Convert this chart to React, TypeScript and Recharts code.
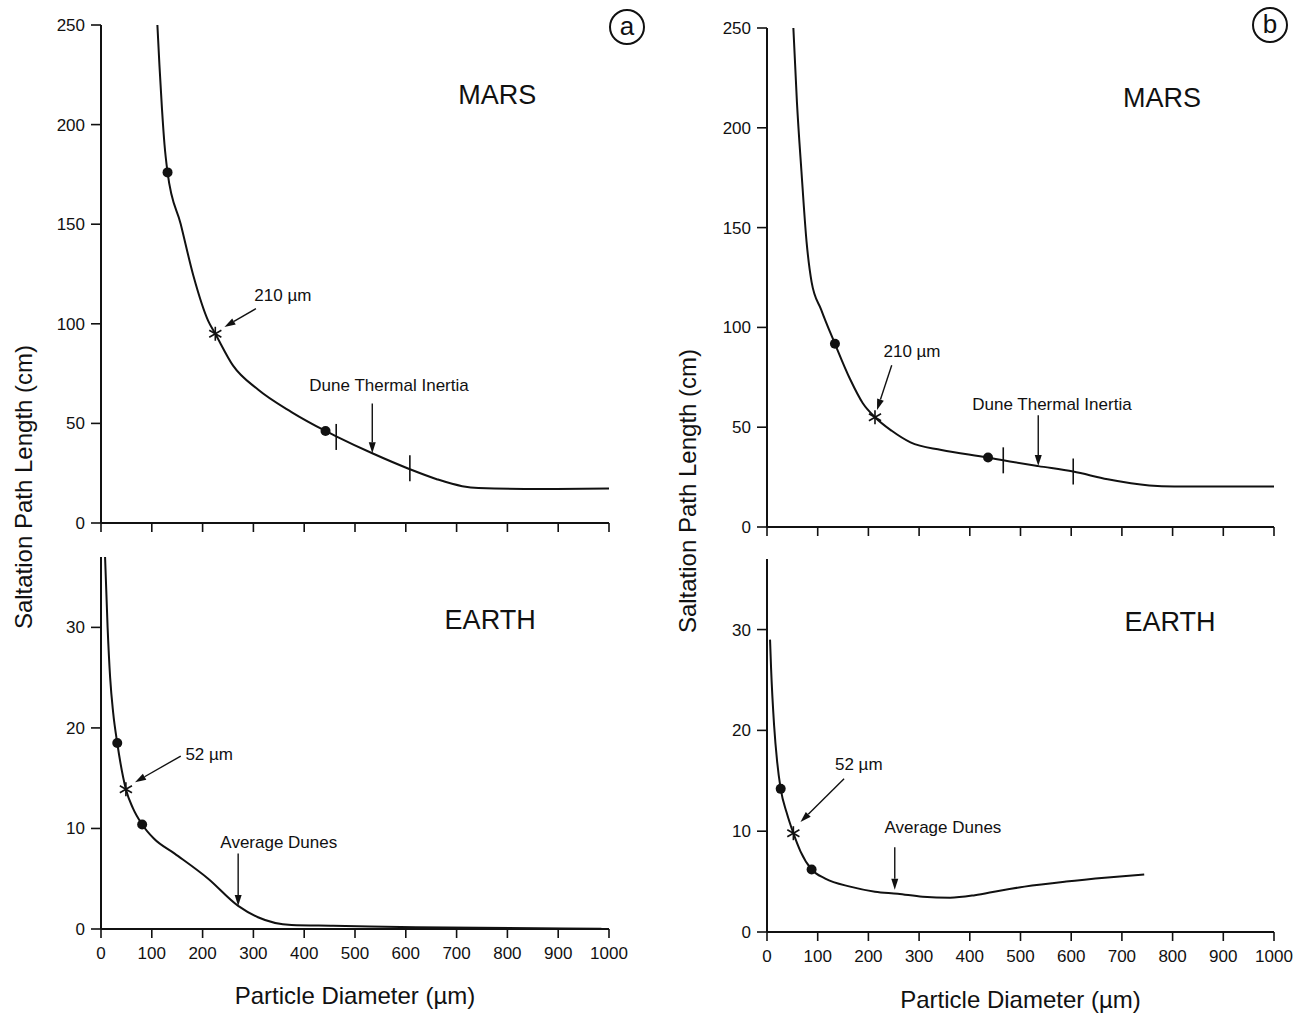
import React from 'react';
import {
  ComposedChart,
  Line,
  Scatter,
  XAxis,
  YAxis,
  ReferenceLine,
  ReferenceDot,
} from 'recharts';

const FONT = "'Liberation Sans', Arial, Helvetica, sans-serif";
const INK = '#111';

// shared axis ticks
const xTicks = [0, 100, 200, 300, 400, 500, 600, 700, 800, 900, 1000];
const marsYTicks = [0, 50, 100, 150, 200, 250];
const earthYTicks = [0, 10, 20, 30];

// ---- panel (a) MARS ----
const marsACurve = [
  { d: 111, y: 250 }, { d: 115, y: 230 }, { d: 120, y: 208 }, { d: 125, y: 190 },
  { d: 131, y: 176 }, { d: 157, y: 150 }, { d: 182, y: 124 }, { d: 211, y: 101.5 },
  { d: 225, y: 95 }, { d: 260, y: 79 }, { d: 309, y: 67 }, { d: 375, y: 55.7 },
  { d: 442, y: 46.2 }, { d: 463, y: 43.5 }, { d: 534, y: 35 }, { d: 608, y: 27 },
  { d: 661, y: 22 }, { d: 711, y: 18.5 }, { d: 743, y: 17.6 }, { d: 866, y: 17.1 },
  { d: 1000, y: 17.3 },
];
const marsADots = [{ d: 131, y: 176 }, { d: 442, y: 46.2 }];
const marsAStar = [{ d: 225, y: 95 }];
const marsABars = [{ d: 463, y: 43.2 }, { d: 608, y: 27.5 }];
const marsAArrows = [
  { x1: 305, y1: 107.6, x2: 243, y2: 98.4 },
  { x1: 534, y1: 60, x2: 534, y2: 35 },
];
const marsANotes = [
  { text: '210 µm', d: 358, y: 114, size: 17 },
  { text: 'Dune Thermal Inertia', d: 567, y: 68.8, size: 17 },
  { text: 'MARS', d: 780, y: 215, size: 27 },
];

// ---- panel (a) EARTH ----
const earthACurve = [
  { d: 8, y: 37 }, { d: 13, y: 30 }, { d: 18, y: 25 }, { d: 24, y: 21.5 },
  { d: 32, y: 18.5 }, { d: 49, y: 13.9 }, { d: 63, y: 12.0 }, { d: 81, y: 10.4 },
  { d: 104, y: 9.0 }, { d: 145, y: 7.5 }, { d: 211, y: 5.0 }, { d: 270, y: 2.3 },
  { d: 309, y: 1.17 }, { d: 375, y: 0.4 }, { d: 457, y: 0.33 }, { d: 620, y: 0.17 },
  { d: 985, y: 0.03 },
];
const earthADots = [{ d: 32, y: 18.5 }, { d: 81, y: 10.4 }];
const earthAStar = [{ d: 49, y: 13.9 }];
const earthAArrows = [
  { x1: 157, y1: 17.2, x2: 67, y2: 14.6 },
  { x1: 270, y1: 7.5, x2: 270, y2: 2.3 },
];
const earthANotes = [
  { text: '52 µm', d: 213, y: 17.4, size: 17 },
  { text: 'Average Dunes', d: 350, y: 8.6, size: 17 },
  { text: 'EARTH', d: 766, y: 30.7, size: 27 },
];

// ---- panel (b) MARS ----
const marsBCurve = [
  { d: 52, y: 250 }, { d: 59, y: 213 }, { d: 68, y: 178 }, { d: 78, y: 143 },
  { d: 88, y: 122.7 }, { d: 107, y: 108.8 }, { d: 134, y: 91.8 }, { d: 164, y: 74 },
  { d: 189, y: 62 }, { d: 213, y: 55 }, { d: 246, y: 48.2 }, { d: 283, y: 42.4 },
  { d: 344, y: 38.6 }, { d: 436, y: 34.8 }, { d: 466, y: 33.4 }, { d: 535, y: 30.5 },
  { d: 604, y: 27.8 }, { d: 672, y: 23.9 }, { d: 754, y: 20.8 }, { d: 803, y: 20.3 },
  { d: 1000, y: 20.3 },
];
const marsBDots = [{ d: 134, y: 91.8 }, { d: 436, y: 34.8 }];
const marsBStar = [{ d: 213, y: 55 }];
const marsBBars = [{ d: 466, y: 33.4 }, { d: 604, y: 27.8 }];
const marsBArrows = [
  { x1: 246, y1: 81, x2: 217, y2: 58.6 },
  { x1: 535, y1: 56, x2: 535, y2: 30.5 },
];
const marsBNotes = [
  { text: '210 µm', d: 286, y: 87.7, size: 17 },
  { text: 'Dune Thermal Inertia', d: 562, y: 61.6, size: 17 },
  { text: 'MARS', d: 779, y: 215, size: 27 },
];

// ---- panel (b) EARTH ----
const earthBCurve = [
  { d: 6, y: 29 }, { d: 8, y: 26.2 }, { d: 14, y: 20.5 }, { d: 20, y: 16.9 },
  { d: 27, y: 14.2 }, { d: 39, y: 11.8 }, { d: 52, y: 9.8 }, { d: 66, y: 8.0 },
  { d: 88, y: 6.2 }, { d: 115, y: 5.3 }, { d: 164, y: 4.5 }, { d: 213, y: 4.0 },
  { d: 258, y: 3.8 }, { d: 307, y: 3.5 }, { d: 361, y: 3.4 }, { d: 410, y: 3.65 },
  { d: 459, y: 4.1 }, { d: 508, y: 4.5 }, { d: 590, y: 5.0 }, { d: 672, y: 5.4 },
  { d: 744, y: 5.7 },
];
const earthBDots = [{ d: 27, y: 14.2 }, { d: 88, y: 6.2 }];
const earthBStar = [{ d: 52, y: 9.8 }];
const earthBArrows = [
  { x1: 152, y1: 15.2, x2: 66, y2: 10.9 },
  { x1: 252, y1: 8.4, x2: 252, y2: 4.2 },
];
const earthBNotes = [
  { text: '52 µm', d: 181, y: 16.6, size: 17 },
  { text: 'Average Dunes', d: 347, y: 10.4, size: 17 },
  { text: 'EARTH', d: 795, y: 30.8, size: 27 },
];

const DotShape = (p: any) => <circle cx={p.cx} cy={p.cy} r={5} fill={INK} />;

const StarShape = (p: any) => {
  const r = 7;
  const a = r * Math.cos(Math.PI / 6);
  const b = r * Math.sin(Math.PI / 6);
  return (
    <g stroke={INK} strokeWidth={1.6}>
      <line x1={p.cx} y1={p.cy - r} x2={p.cx} y2={p.cy + r} />
      <line x1={p.cx - a} y1={p.cy - b} x2={p.cx + a} y2={p.cy + b} />
      <line x1={p.cx - a} y1={p.cy + b} x2={p.cx + a} y2={p.cy - b} />
    </g>
  );
};

const BarShape = (p: any) => (
  <line x1={p.cx} y1={p.cy - 13} x2={p.cx} y2={p.cy + 13} stroke={INK} strokeWidth={1.6} />
);

const ArrowShape = (p: any) => {
  const { x1, y1, x2, y2 } = p;
  const ang = Math.atan2(y2 - y1, x2 - x1);
  const len = 11;
  const half = 3.5;
  const bx = x2 - len * Math.cos(ang);
  const by = y2 - len * Math.sin(ang);
  const nx = -Math.sin(ang) * half;
  const ny = Math.cos(ang) * half;
  return (
    <g>
      <line x1={x1} y1={y1} x2={bx} y2={by} stroke={INK} strokeWidth={1.4} />
      <polygon points={`${x2},${y2} ${bx + nx},${by + ny} ${bx - nx},${by - ny}`} fill={INK} />
    </g>
  );
};

type Pt = { d: number; y: number };
type Note = { text: string; d: number; y: number; size: number };
type Arrow = { x1: number; y1: number; x2: number; y2: number };

interface PanelProps {
  plot: { x: number; y: number; w: number; h: number };
  yDomain: [number, number];
  yTicks: number[];
  showX: boolean;
  curve: Pt[];
  dots: Pt[];
  stars: Pt[];
  bars?: Pt[];
  arrows: Arrow[];
  notes: Note[];
  xLabelOffset?: number;
}

function Panel({ plot, yDomain, yTicks, showX, curve, dots, stars, bars = [], arrows, notes, xLabelOffset = 15 }: PanelProps) {
  const yAxisW = 60;
  const mTop = 10;
  const mRight = 40;
  const xAxisH = showX ? 90 : 20;
  const width = plot.w + yAxisW + mRight;
  const height = plot.h + mTop + xAxisH;

  return (
    <div style={{ position: 'absolute', left: plot.x - yAxisW, top: plot.y - mTop }}>
      <ComposedChart width={width} height={height} margin={{ top: mTop, right: mRight, bottom: 0, left: 0 }}>
        <XAxis
          type="number"
          dataKey="d"
          domain={[0, 1000]}
          ticks={xTicks}
          allowDataOverflow
          height={xAxisH}
          axisLine={{ stroke: INK, strokeWidth: 2 }}
          tickLine={{ stroke: INK, strokeWidth: 1.6 }}
          tickSize={9}
          tickMargin={9}
          tick={showX ? { fill: INK, fontSize: 17, fontFamily: FONT } : () => <g />}
          label={
            showX
              ? {
                  value: 'Particle Diameter (µm)',
                  position: 'insideBottom',
                  offset: xLabelOffset,
                  style: { fill: INK, fontSize: 24, fontFamily: FONT },
                }
              : undefined
          }
        />
        <YAxis
          type="number"
          dataKey="y"
          domain={yDomain}
          ticks={yTicks}
          allowDataOverflow
          width={yAxisW}
          axisLine={{ stroke: INK, strokeWidth: 2 }}
          tickLine={{ stroke: INK, strokeWidth: 1.6 }}
          tickSize={10}
          tickMargin={6}
          tick={{ fill: INK, fontSize: 17, fontFamily: FONT }}
        />
        <Line
          data={curve}
          dataKey="y"
          type="monotone"
          dot={false}
          stroke={INK}
          strokeWidth={2}
          isAnimationActive={false}
        />
        <Scatter data={dots} shape={DotShape} isAnimationActive={false} />
        <Scatter data={stars} shape={StarShape} isAnimationActive={false} />
        {bars.length > 0 && <Scatter data={bars} shape={BarShape} isAnimationActive={false} />}
        {arrows.map((a, i) => (
          <ReferenceLine
            key={`arr-${i}`}
            segment={[{ x: a.x1, y: a.y1 }, { x: a.x2, y: a.y2 }]}
            shape={ArrowShape}
          />
        ))}
        {notes.map((n, i) => (
          <ReferenceDot
            key={`note-${i}`}
            x={n.d}
            y={n.y}
            r={0}
            shape={(p: any) => (
              <text
                x={p.cx}
                y={p.cy}
                textAnchor="middle"
                dominantBaseline="central"
                fontSize={n.size}
                fontFamily={FONT}
                fill={INK}
              >
                {n.text}
              </text>
            )}
          />
        ))}
      </ComposedChart>
    </div>
  );
}

const YLabel = ({ cx, cy }: { cx: number; cy: number }) => (
  <div
    style={{
      position: 'absolute',
      left: cx - 200,
      top: cy - 15,
      width: 400,
      height: 30,
      lineHeight: '30px',
      textAlign: 'center',
      fontFamily: FONT,
      fontSize: 24,
      color: INK,
      transform: 'rotate(-90deg)',
      whiteSpace: 'nowrap',
    }}
  >
    Saltation Path Length (cm)
  </div>
);

const Circled = ({ cx, cy, letter }: { cx: number; cy: number; letter: string }) => (
  <div
    style={{
      position: 'absolute',
      left: cx - 18,
      top: cy - 18,
      width: 32,
      height: 32,
      border: `2px solid ${INK}`,
      borderRadius: '50%',
      textAlign: 'center',
      lineHeight: '30px',
      fontFamily: FONT,
      fontSize: 26,
      color: INK,
    }}
  >
    {letter}
  </div>
);

export default function App() {
  return (
    <div style={{ position: 'absolute', left: 0, top: 0, width: 1299, height: 1014, background: '#fff' }}>
      <Panel
        plot={{ x: 101, y: 25, w: 508, h: 498 }}
        yDomain={[0, 250]}
        yTicks={marsYTicks}
        showX={false}
        curve={marsACurve}
        dots={marsADots}
        stars={marsAStar}
        bars={marsABars}
        arrows={marsAArrows}
        notes={marsANotes}
      />
      <Panel
        plot={{ x: 101, y: 557, w: 508, h: 372 }}
        yDomain={[0, 37]}
        yTicks={earthYTicks}
        showX
        curve={earthACurve}
        dots={earthADots}
        stars={earthAStar}
        arrows={earthAArrows}
        notes={earthANotes}
        xLabelOffset={15}
      />
      <Panel
        plot={{ x: 767, y: 28, w: 507, h: 499 }}
        yDomain={[0, 250]}
        yTicks={marsYTicks}
        showX={false}
        curve={marsBCurve}
        dots={marsBDots}
        stars={marsBStar}
        bars={marsBBars}
        arrows={marsBArrows}
        notes={marsBNotes}
      />
      <Panel
        plot={{ x: 767, y: 559, w: 507, h: 373 }}
        yDomain={[0, 37]}
        yTicks={earthYTicks}
        showX
        curve={earthBCurve}
        dots={earthBDots}
        stars={earthBStar}
        arrows={earthBArrows}
        notes={earthBNotes}
        xLabelOffset={14}
      />
      <YLabel cx={24} cy={487} />
      <YLabel cx={688} cy={491} />
      <Circled cx={627} cy={27} letter="a" />
      <Circled cx={1270} cy={25} letter="b" />
    </div>
  );
}
